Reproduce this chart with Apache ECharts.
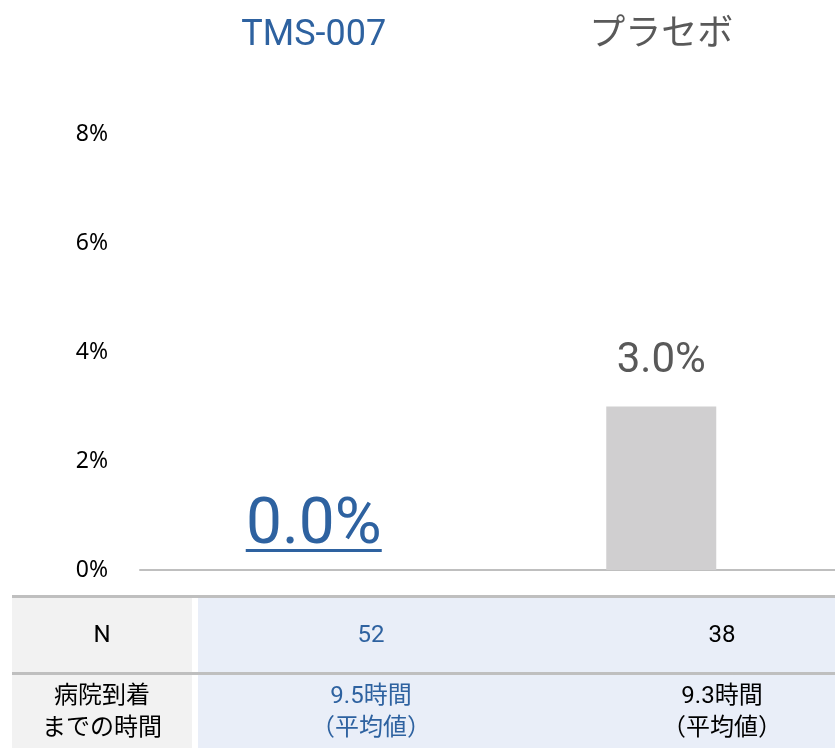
<!DOCTYPE html>
<html>
<head>
<meta charset="utf-8">
<script src="https://cdn.jsdelivr.net/npm/echarts@6/dist/echarts.min.js"></script>
<style>
  html, body { margin: 0; padding: 0; background: #fff; }
  #main { width: 835px; height: 748px; }
</style>
</head>
<body>
<div id="main"></div>
<script>
// データ
var groups = ['TMS-007', 'プラセボ'];
var groupColors = ['#2e62a0', '#595959'];
var rates = [0.0, 3.0];
var yTicks = [0, 2, 4, 6, 8];
var rowHeads = ['N', '病院到着\nまでの時間'];
var rowN = ['52', '38'];
var rowTime = ['9.5時間\n（平均値）', '9.3時間\n（平均値）'];

var numFont = 'Roboto, "Noto Sans CJK JP", sans-serif';
var chart = echarts.init(document.getElementById('main'));

var option = {
    backgroundColor: '#fff',
    animation: false,
    grid: { left: 140, right: 0, top: 134, bottom: 178 },
    xAxis: [
        {
            type: 'category',
            data: groups,
            position: 'bottom',
            axisLine: { lineStyle: { color: '#bfbfbf', width: 2 } },
            axisTick: { show: false },
            axisLabel: { show: false }
        },
        {
            type: 'category',
            data: groups.map(function (g, i) {
                return { value: g, textStyle: { color: groupColors[i] } };
            }),
            position: 'top',
            axisLine: { show: false },
            axisTick: { show: false },
            axisLabel: { margin: 80, fontSize: 36, fontFamily: numFont }
        }
    ],
    yAxis: {
        type: 'value',
        min: yTicks[0],
        max: yTicks[yTicks.length - 1],
        interval: 2,
        axisLine: { show: false },
        axisTick: { show: false },
        splitLine: { show: false },
        axisLabel: {
            formatter: '{value}%',
            margin: 32,
            fontSize: 23,
            color: '#000',
            fontFamily: '"Noto Sans", sans-serif'
        }
    },
    series: [{
        type: 'bar',
        barWidth: 110,
        data: rates.map(function (v, i) {
            return {
                value: v,
                itemStyle: { color: i === 0 ? '#2e62a0' : '#d0cfd0' },
                label: i === 0
                    ? { fontSize: 64, color: '#2e62a0', distance: 11 }
                    : { fontSize: 42, color: '#595959', distance: 24 }
            };
        }),
        label: {
            show: true,
            position: 'top',
            fontFamily: numFont,
            formatter: function (p) { return p.value.toFixed(1) + '%'; }
        }
    }]
};
chart.setOption(option);

// 下の表
var tTop = 595, r1 = 672, tBot = 748;
var els = [
    { type: 'rect', shape: { x: 12, y: tTop, width: 180, height: tBot - tTop }, style: { fill: '#f2f2f2' } },
    { type: 'rect', shape: { x: 198, y: tTop, width: 637, height: tBot - tTop }, style: { fill: '#e9eef8' } },
    { type: 'rect', shape: { x: 12, y: tTop, width: 823, height: 3 }, style: { fill: '#bfbfbf' } },
    { type: 'rect', shape: { x: 12, y: r1, width: 823, height: 3 }, style: { fill: '#bfbfbf' } }
];
var colX = [102, 371, 722];
var rowY = [636, 713];
var cellFont = 'Roboto, "Noto Sans CJK JP", sans-serif';
function cell(x, y, txt, color) {
    els.push({
        type: 'text', x: x, y: y,
        style: { text: txt, fill: color, fontSize: 24, lineHeight: 32, fontFamily: cellFont, align: 'center', verticalAlign: 'middle' }
    });
}
cell(colX[0], rowY[0], rowHeads[0], '#000');
cell(colX[0], rowY[1], rowHeads[1], '#000');
for (var i = 0; i < groups.length; i++) {
    var c = i === 0 ? '#2e62a0' : '#000';
    cell(colX[i + 1], rowY[0], rowN[i], c);
    cell(colX[i + 1], rowY[1], rowTime[i], c);
}

// 0.0% の下線
var px = chart.convertToPixel({ xAxisIndex: 0, yAxisIndex: 0 }, [groups[0], rates[0]]);
els.push({
    type: 'rect',
    shape: { x: px[0] - 68, y: px[1] - 21, width: 136, height: 3 },
    style: { fill: '#2e62a0' }
});

chart.setOption({ graphic: { elements: els } });
</script>
</body>
</html>
